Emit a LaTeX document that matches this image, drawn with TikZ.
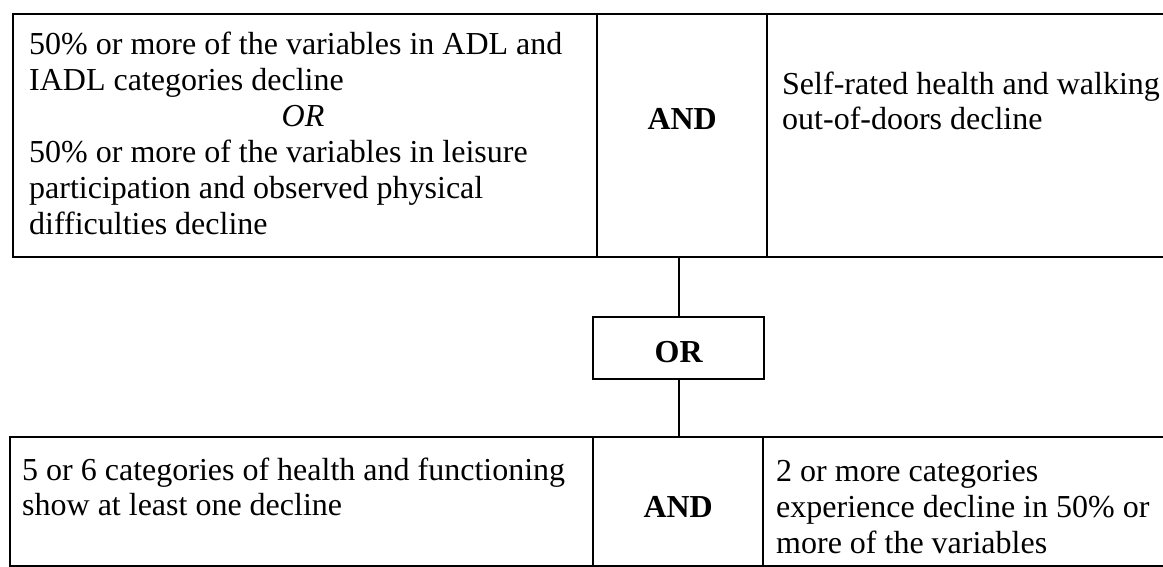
\documentclass[tikz,border=0pt]{standalone}
\usepackage{fontspec}
\setmainfont{Liberation Serif}
\begin{document}
\begin{tikzpicture}[x=1pt,y=-1pt,
  cell/.style={draw, line width=2.4pt, inner sep=0pt, anchor=north west},
  txt/.style={anchor=base west, inner sep=0pt, font=\fontsize{32}{36}\selectfont},
  op/.style={anchor=base, inner sep=0pt, font=\fontsize{32}{36}\selectfont\bfseries},
  link/.style={line width=2.2pt}]
\useasboundingbox (0,0) rectangle (1163,567);
\clip (0,0) rectangle (1163,567);

% upper condition row
\node[cell, minimum width=584pt, minimum height=243pt] (tl) at (12,13) {};
\node[cell, minimum width=170pt, minimum height=243pt] (ta) at (596,13) {};
\node[cell, minimum width=420pt, minimum height=243pt] (tr) at (766,13) {};

\foreach \t/\y [count=\i] in {{50\% or more of the variables in ADL and}/55,
                              {IADL categories decline}/91,
                              {50\% or more of the variables in leisure}/163,
                              {participation and observed physical}/199,
                              {difficulties decline}/235}
  \node[txt] (tl\i) at (29,\y) {\t};
\node[txt, anchor=base] (tlor) at (303,127) {\itshape OR};
\node[op] (tand) at (ta.center |- 0,130) {AND};
\node[txt] (tr1) at (782,95) {Self-rated health and walking};
\node[txt] (tr2) at (782,130) {out-of-doors decline};

% joining OR box
\node[cell, minimum width=171pt, minimum height=62pt] (orbox) at (592,316) {};
\node[op] (ortext) at (orbox.center |- 0,362) {OR};

% lower condition row
\node[cell, minimum width=583pt, minimum height=129pt] (bl) at (9,436) {};
\node[cell, minimum width=170pt, minimum height=129pt] (ba) at (592,436) {};
\node[cell, minimum width=420pt, minimum height=129pt] (br) at (762,436) {};

\node[txt] (bl1) at (22,480) {5 or 6 categories of health and functioning};
\node[txt] (bl2) at (22,515) {show at least one decline};
\node[op] (band) at (ba.center |- 0,517) {AND};
\node[txt] (br1) at (776,481) {2 or more categories};
\node[txt] (br2) at (776,517) {experience decline in 50\% or};
\node[txt] (br3) at (776,553) {more of the variables};

% connectors through the OR box
\draw[link] (orbox.north) -- (orbox.north |- ta.south);
\draw[link] (orbox.south) -- (orbox.south |- ba.north);
\end{tikzpicture}
\end{document}
